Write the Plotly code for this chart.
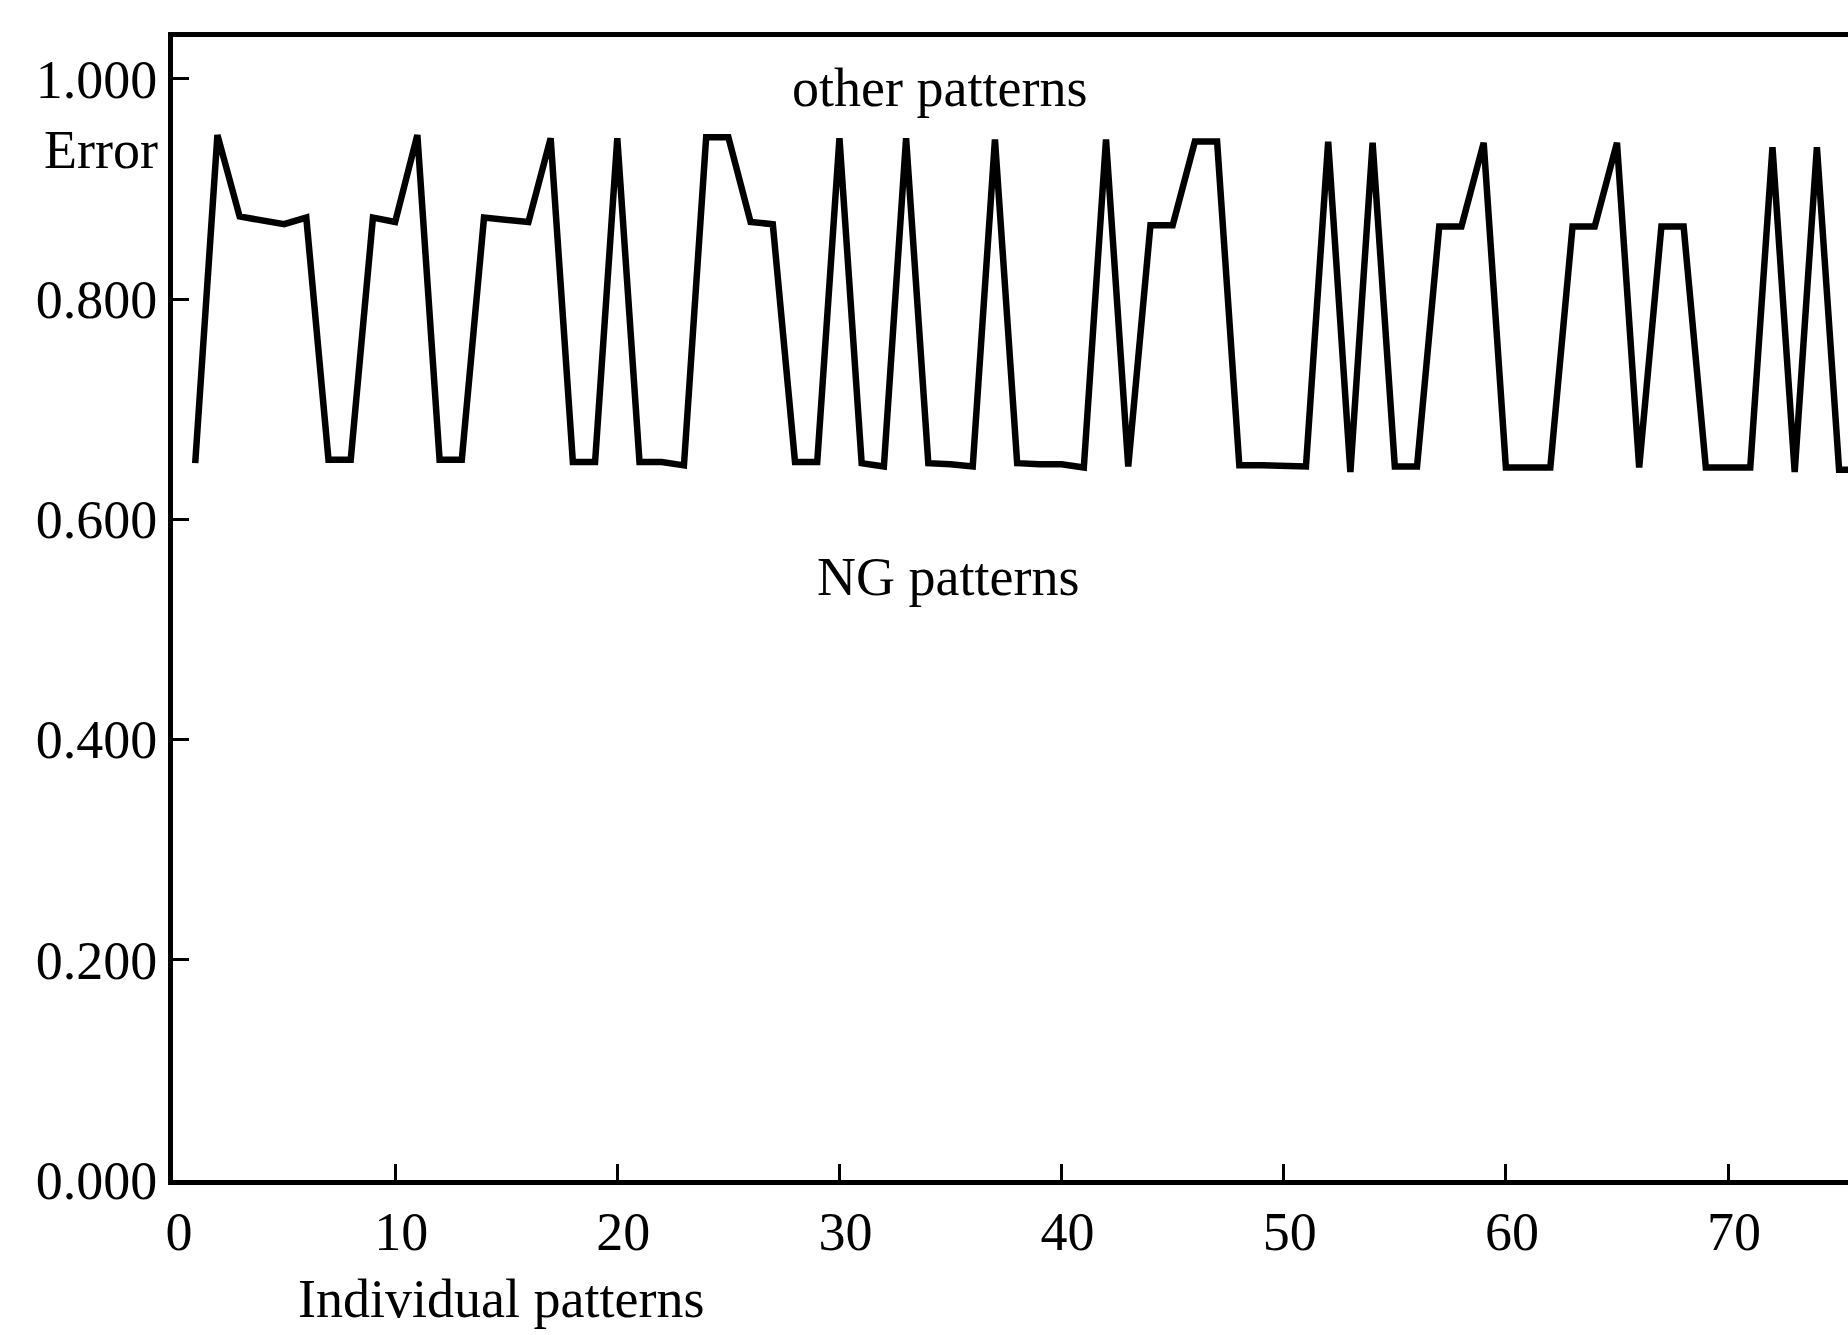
import plotly.graph_objects as go

# Error per individual training pattern
pattern_index = list(range(1, 77))
pattern_error = [
    0.651, 0.949, 0.875, 0.872, 0.868, 0.874, 0.654, 0.654, 0.874, 0.870,
    0.949, 0.654, 0.654, 0.874, 0.872, 0.870, 0.946, 0.652, 0.652, 0.946,
    0.652, 0.652, 0.649, 0.947, 0.947, 0.870, 0.868, 0.652, 0.652, 0.946,
    0.651, 0.648, 0.946, 0.651, 0.650, 0.648, 0.945, 0.651, 0.650, 0.650,
    0.647, 0.945, 0.648, 0.867, 0.867, 0.943, 0.943, 0.649, 0.649, 0.648,
    0.648, 0.943, 0.643, 0.942, 0.648, 0.648, 0.866, 0.866, 0.942, 0.647,
    0.647, 0.647, 0.866, 0.866, 0.942, 0.647, 0.866, 0.866, 0.647, 0.647,
    0.647, 0.938, 0.643, 0.938, 0.645, 0.645,
]

x_ticks = [0, 10, 20, 30, 40, 50, 60, 70]
y_ticks = [0.0, 0.2, 0.4, 0.6, 0.8, 1.0]
y_tick_text = ["0.000", "0.200", "0.400", "0.600", "0.800", "1.000"]

SERIF = "Liberation Serif, Times New Roman, serif"

fig = go.Figure()
fig.add_trace(go.Scatter(
    x=pattern_index,
    y=pattern_error,
    mode="lines",
    line=dict(color="black", width=6.5),
    showlegend=False,
    hoverinfo="skip",
))

axis_font = dict(family=SERIF, size=54, color="black")

fig.update_xaxes(
    range=[0, 75.4],
    tickmode="array",
    tickvals=x_ticks,
    ticktext=[str(v) for v in x_ticks],
    ticks="inside",
    ticklen=16,
    tickwidth=3,
    tickcolor="black",
    showline=True,
    linecolor="black",
    linewidth=5,
    mirror=True,
    showgrid=False,
    zeroline=False,
    tickfont=axis_font,
    ticklabelstandoff=0,
    ticklabelshift=6,
)
fig.update_yaxes(
    range=[0, 1.038],
    tickmode="array",
    tickvals=y_ticks,
    ticktext=y_tick_text,
    ticks="inside",
    ticklen=16,
    tickwidth=3,
    tickcolor="black",
    showline=True,
    linecolor="black",
    linewidth=5,
    mirror=False,
    showgrid=False,
    zeroline=False,
    tickfont=axis_font,
    ticklabelstandoff=0,
)

label_font = dict(family=SERIF, size=54, color="black")
fig.add_annotation(text="other patterns", x=34.5, y=0.992, xref="x", yref="y",
                   showarrow=False, font=label_font, xanchor="center", yanchor="middle")
fig.add_annotation(text="NG patterns", x=34.9, y=0.548, xref="x", yref="y",
                   showarrow=False, font=label_font, xanchor="center", yanchor="middle")
fig.add_annotation(text="Error", x=-0.008, y=0.935, xref="paper", yref="y",
                   showarrow=False, font=dict(family=SERIF, size=54, color="black"),
                   xanchor="right", yanchor="middle")
fig.add_annotation(text="Individual patterns", x=0.196, y=-0.104, xref="paper", yref="paper",
                   showarrow=False, font=label_font, xanchor="center", yanchor="middle")

fig.update_layout(
    width=1848,
    height=1335,
    margin=dict(l=173, r=0, t=37, b=155),
    paper_bgcolor="white",
    plot_bgcolor="white",
)

fig.write_html("out.html")
